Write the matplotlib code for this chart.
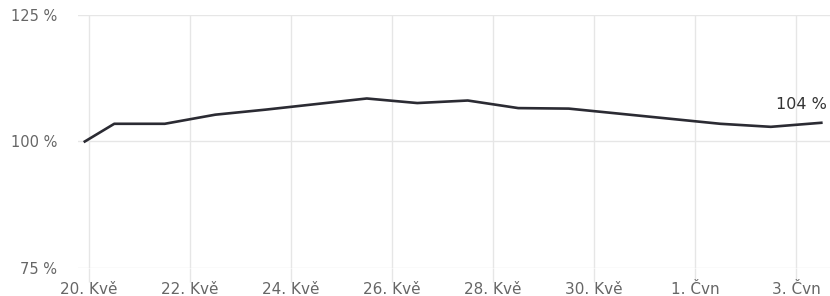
import matplotlib.pyplot as plt
import matplotlib.dates as mdates
import pandas as pd

plt.rcParams['font.family'] = ['DejaVu Sans']

times = pd.to_datetime([
    '2021-05-19 22:00', '2021-05-20 12:00', '2021-05-21 12:00', '2021-05-22 12:00',
    '2021-05-23 12:00', '2021-05-24 12:00', '2021-05-25 12:00', '2021-05-26 12:00',
    '2021-05-27 12:00', '2021-05-28 12:00', '2021-05-29 12:00', '2021-05-30 12:00',
    '2021-05-31 12:00', '2021-06-01 12:00', '2021-06-02 12:00', '2021-06-03 12:00',
])
values = [100.0, 103.5, 103.5, 105.3, 106.3, 107.4, 108.5, 107.6,
          108.1, 106.6, 106.5, 105.5, 104.5, 103.5, 102.9, 103.7]

tick_dates = pd.to_datetime(['2021-05-20', '2021-05-22', '2021-05-24', '2021-05-26',
                             '2021-05-28', '2021-05-30', '2021-06-01', '2021-06-03'])
tick_labels = ['20. Kvě', '22. Kvě', '24. Kvě', '26. Kvě',
               '28. Kvě', '30. Kvě', '1. Čvn', '3. Čvn']
y_ticks = [75, 100, 125]
last_label = '104 %'

grid_color = '#e6e6e6'

fig = plt.figure(figsize=(8.3, 2.96), dpi=100)
ax = fig.add_axes([78 / 830, 28 / 296, 1 - 78 / 830, (268 - 15) / 296])

ax.plot(times, values, color='#2b2b33', linewidth=1.9, solid_joinstyle='round')

ax.set_ylim(75, 125)
ax.set_yticks(y_ticks)
ax.set_yticklabels([f'{v} %' for v in y_ticks])
ax.set_xticks(mdates.date2num(tick_dates))
ax.set_xticklabels(tick_labels)

x0 = mdates.date2num(pd.Timestamp('2021-05-20')) - 0.218
ax.set_xlim(x0, x0 + 14.89)

ax.grid(True, color=grid_color, linewidth=1)
ax.set_axisbelow(True)
for s in ax.spines.values():
    s.set_visible(False)

ax.tick_params(axis='y', length=0, pad=15, labelsize=10.5, labelcolor='#666666')
ax.tick_params(axis='x', length=10, width=1, color=grid_color, pad=0,
               labelsize=11, labelcolor='#666666')

ax.annotate(last_label, xy=(mdates.date2num(times[-1]), values[-1]),
            xytext=(4, 13.5), textcoords='offset points', ha='right', va='center',
            fontsize=11.5, color='#333333', annotation_clip=False)

fig.savefig('out.png', dpi=100)
